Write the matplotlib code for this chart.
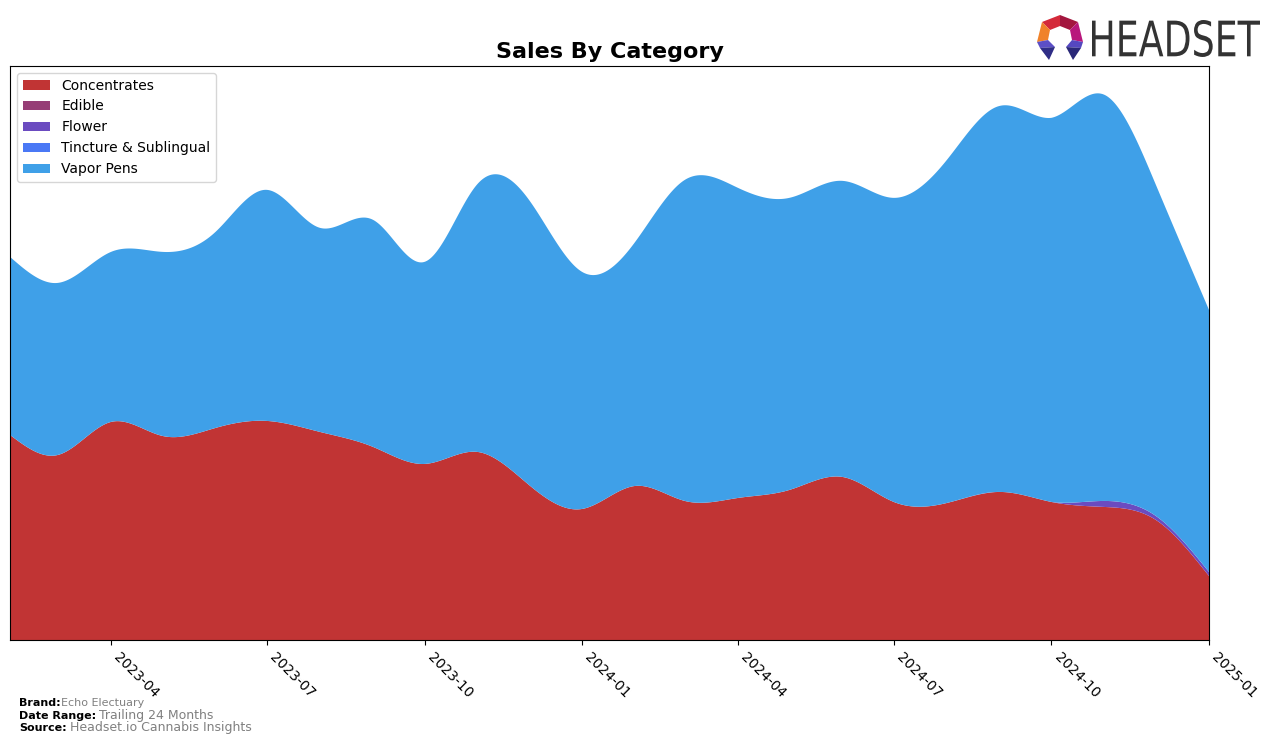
import numpy as np
import pandas as pd
import matplotlib
matplotlib.use('Agg')
import matplotlib.pyplot as plt
import matplotlib.dates as mdates
from matplotlib.patches import Polygon, PathPatch
from matplotlib.textpath import TextPath
from matplotlib.font_manager import FontProperties
from matplotlib.transforms import Affine2D

# 月度数据（估读自原图，单位任意）
months = pd.date_range('2023-02-01', '2025-01-01', freq='MS')
concentrates = [205, 185, 218, 204, 212, 219, 208, 193, 176, 188, 155, 131,
                154, 139, 142, 150, 163, 138, 137, 148, 138, 133, 120, 64]
edible = [0] * 24
flower = [0] * 21 + [6, 4, 4]
tincture = [0] * 24
total = [383, 357, 388, 388, 408, 450, 412, 420, 378, 456, 440, 368,
         398, 460, 452, 442, 459, 442, 480, 534, 522, 545, 455, 330]
vapor_pens = [t - c - f for t, c, f in zip(total, concentrates, flower)]

categories = ['Concentrates', 'Edible', 'Flower', 'Tincture & Sublingual', 'Vapor Pens']
colors = ['#c13434', '#963e76', '#6b4bc0', '#4a78f5', '#3fa0e8']


def natural_spline(x, y, xs):
    """自然三次样条，只用于平滑绘图"""
    x = np.asarray(x, float)
    y = np.asarray(y, float)
    n = len(x)
    h = np.diff(x)
    A = np.zeros((n, n))
    b = np.zeros(n)
    A[0, 0] = 1
    A[-1, -1] = 1
    for i in range(1, n - 1):
        A[i, i - 1] = h[i - 1]
        A[i, i] = 2 * (h[i - 1] + h[i])
        A[i, i + 1] = h[i]
        b[i] = 6 * ((y[i + 1] - y[i]) / h[i] - (y[i] - y[i - 1]) / h[i - 1])
    M = np.linalg.solve(A, b)
    idx = np.clip(np.searchsorted(x, xs) - 1, 0, n - 2)
    x0, x1 = x[idx], x[idx + 1]
    hi = x1 - x0
    t0 = x1 - xs
    t1 = xs - x0
    return (M[idx] * t0 ** 3 / (6 * hi) + M[idx + 1] * t1 ** 3 / (6 * hi)
            + (y[idx] / hi - M[idx] * hi / 6) * t0
            + (y[idx + 1] / hi - M[idx + 1] * hi / 6) * t1)


xnum = mdates.date2num(months)
xs = np.linspace(xnum[0], xnum[-1], 800)
series = [concentrates, edible, flower, tincture, vapor_pens]
smoothed = [np.clip(natural_spline(xnum, s, xs), 0, None) for s in series]

fig = plt.figure(figsize=(12.76, 7.45), dpi=100)
ax = fig.add_axes([10 / 1276, 105 / 745, 1199 / 1276, 574 / 745])
ax.stackplot(xs, *smoothed, colors=colors, labels=categories)

ax.set_xlim(xnum[0], xnum[-1])
ax.set_ylim(0, np.sum(smoothed, axis=0).max() * 1.05)
ax.set_yticks([])
ax.xaxis.set_major_locator(mdates.MonthLocator(bymonth=[1, 4, 7, 10]))
ax.xaxis.set_major_formatter(mdates.DateFormatter('%Y-%m'))
plt.setp(ax.get_xticklabels(), rotation=-45, ha='left', fontsize=10)

ax.set_title('Sales By Category', fontsize=16, fontweight='bold', pad=6)
ax.legend(loc='upper left', fontsize=10)

# 页脚
fig.text(19 / 1276, 1 - 703 / 745, 'Brand:', fontsize=8, fontweight='bold', va='center')
fig.text(61 / 1276, 1 - 703 / 745, 'Echo Electuary', fontsize=8, color='grey', va='center')
fig.text(19 / 1276, 1 - 716 / 745, 'Date Range:', fontsize=8, fontweight='bold', va='center')
fig.text(99 / 1276, 1 - 716 / 745, 'Trailing 24 Months', fontsize=9, color='grey', va='center')
fig.text(19 / 1276, 1 - 728 / 745, 'Source:', fontsize=8, fontweight='bold', va='center')
fig.text(70 / 1276, 1 - 728 / 745, 'Headset.io Cannabis Insights', fontsize=9, color='grey', va='center')

# Logo（像素坐标）
lax = fig.add_axes([1030 / 1276, 1 - 65 / 745, 240 / 1276, 55 / 745])
lax.set_xlim(1030, 1270)
lax.set_ylim(65, 10)
lax.axis('off')

tp = TextPath((0, 0), 'HEADSET', size=100, prop=FontProperties(family='DejaVu Sans'))
ext = tp.get_extents()
sx = 168 / ext.width
sy = 37 / ext.height
tr = Affine2D().translate(-ext.x0, -ext.y0).scale(sx, -sy).translate(1092, 57)
lax.add_patch(PathPatch(tr.transform_path(tp), color='#333333', lw=0))

icon = [
    ([(1060, 15), (1042, 22), (1050, 30), (1060, 26)], '#d42a3a'),
    ([(1060, 15), (1078, 22), (1070, 30), (1060, 26)], '#a3163f'),
    ([(1042, 22), (1037, 42), (1048, 40), (1050, 30)], '#f0822a'),
    ([(1078, 22), (1083, 42), (1072, 40), (1070, 30)], '#b8177c'),
    ([(1037, 42), (1048, 40), (1055, 47), (1040, 48)], '#5c4fc6'),
    ([(1083, 42), (1072, 40), (1066, 47), (1081, 48)], '#5548c0'),
    ([(1040, 48), (1055, 47), (1049, 60)], '#2f2d86'),
    ([(1066, 47), (1081, 48), (1073, 60)], '#2a2878'),
]
for pts, col in icon:
    lax.add_patch(Polygon(pts, closed=True, color=col, lw=0))

fig.savefig('out.png', dpi=100)
